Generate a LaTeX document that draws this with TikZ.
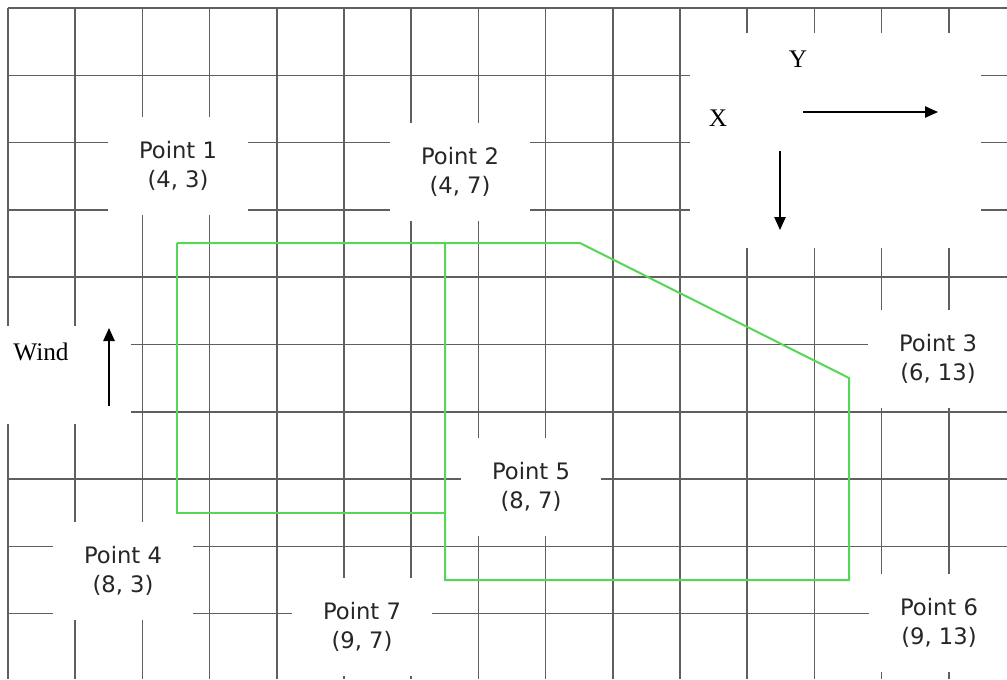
\documentclass[tikz,border=0pt]{standalone}
\usepackage{fontspec}
\setmainfont{Liberation Serif}
\newfontfamily\ptfont{DejaVu Sans}
\usetikzlibrary{arrows.meta}
\definecolor{gridgray}{RGB}{95,95,95}
\definecolor{zonegreen}{RGB}{85,215,85}
\begin{document}
\begin{tikzpicture}[x=0.75pt,y=-0.75pt,
  gridline/.style={gridgray,line width=1.1pt},
  ptlabel/.style={fill=white,inner sep=0pt,minimum width=105pt,minimum height=73.5pt,
    align=center,font=\ptfont\fontsize{17}{22}\selectfont,text=black!85},
  serifl/.style={font=\fontsize{19}{22}\selectfont,inner sep=0pt},
  arr/.style={-{Triangle[length=9.75pt,width=8.5pt]},line width=1.1pt},
  zone/.style={zonegreen,line width=1.5pt,line join=miter}]
\useasboundingbox (0,0) rectangle (1007,679);
\clip (0,0) rectangle (1007,679);
% grid
\foreach \i in {0,...,14} \draw[gridline] ({8+67.2*\i},8) -- ({8+67.2*\i},679);
\foreach \j in {0,...,9} \draw[gridline] (8,{8+67.3*\j}) -- (1007,{8+67.3*\j});
% white clear areas
\fill[white] (0,326) rectangle (131,424);
\fill[white] (690,33) rectangle (981,248);
% point labels
\node[ptlabel] (p1) at (178,166) {Point 1\\(4, 3)};
\node[ptlabel] (p2) at (460,172) {Point 2\\(4, 7)};
\node[ptlabel] (p3) at (938,359) {Point 3\\(6, 13)};
\node[ptlabel] (p4) at (123,571) {Point 4\\(8, 3)};
\node[ptlabel] (p5) at (531,487) {Point 5\\(8, 7)};
\node[ptlabel] (p6) at (939,623) {Point 6\\(9, 13)};
\node[ptlabel] (p7) at (362,627) {Point 7\\(9, 7)};
% zone outline
\coordinate (c1) at (177,243);
\coordinate (c2) at (445,243);
\coordinate (c9) at (580,243);
\coordinate (c3) at (849,378);
\coordinate (c6) at (849,580);
\coordinate (c7) at (445,580);
\coordinate (c5) at (445,513);
\coordinate (c4) at (177,513);
\draw[zone] (c1) -- (c9) -- (c3) -- (c6) -- (c7) -- (c2);
\draw[zone] (c1) -- (c4) -- (c5);
% axes
\node[serifl] (ylab) at (798,59) {Y};
\node[serifl] (xlab) at (718,118) {X};
\coordinate (ya0) at (803,112);
\coordinate (ya1) at (938,112);
\coordinate (xa0) at (780,151);
\coordinate (xa1) at (780,230);
\draw[arr] (ya0) -- (ya1);
\draw[arr] (xa0) -- (xa1);
% wind
\node[serifl] (wind) at (41,352) {Wind};
\coordinate (w0) at (109,406);
\coordinate (w1) at (109,328);
\draw[arr] (w0) -- (w1);
\end{tikzpicture}
\end{document}
